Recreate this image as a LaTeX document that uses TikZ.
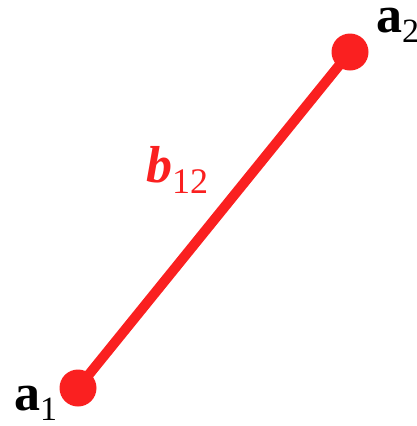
\documentclass[tikz,border=0pt]{standalone}
\usepackage{fontspec}
\setmainfont{Liberation Serif}
\usepackage{tikz}
\usetikzlibrary{positioning, calc}
\definecolor{edgered}{RGB}{250,32,32}

\begin{document}
\begin{tikzpicture}[
    x=1pt, y=-1pt,
    vertex/.style={circle, fill=edgered, minimum size=37pt, inner sep=0pt},
    vlabel/.style={anchor=base west, inner sep=0pt, font=\fontsize{52}{52}\selectfont\bfseries},
    elabel/.style={anchor=base west, inner sep=0pt, text=edgered, font=\fontsize{52}{52}\selectfont\bfseries\itshape},
    edge/.style={draw=edgered, line width=10pt}
]
    \useasboundingbox (0,0) rectangle (417,426);

    \node[vertex] (a1) at (78,388) {};
    \node[vertex] (a2) at (350,52) {};
    \draw[edge] (a1.center) -- (a2.center);

    \node[vlabel] (l1) at (14,410) {a\raisebox{-10pt}{\fontsize{34}{34}\selectfont\mdseries 1}};
    \node[vlabel] (l2) at (376,32) {a\raisebox{-10pt}{\fontsize{34}{34}\selectfont\mdseries 2}};
    \node[elabel] (b12) at (146,182) {b\raisebox{-11pt}{\fontsize{36}{36}\selectfont\mdseries\upshape 12}};
\end{tikzpicture}
\end{document}
